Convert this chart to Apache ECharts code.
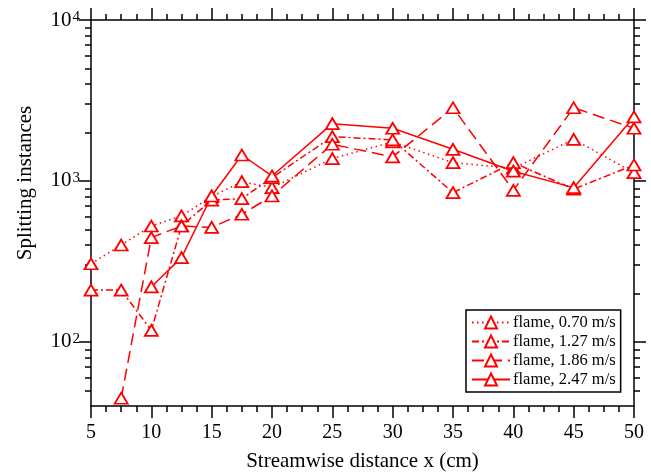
<!DOCTYPE html>
<html><head><meta charset="utf-8">
<script src="https://cdn.jsdelivr.net/npm/echarts@6/dist/echarts.min.js"></script>
<style>html,body{margin:0;padding:0;background:#fff}#c{width:651px;height:473px}</style>
</head><body><div id="c"></div>
<script>
const xValues = [5, 7.5, 10, 12.5, 15, 17.5, 20, 25, 30, 35, 40, 45, 50];
const flame070 = [306, 400, 525, 607, 800, 990, 909, 1377, 1750, 1300, 1199, 1815, 1126];
const flame127 = [210, 210, 118, 525, 760, 776, 1050, 1885, 1800, 846, 1300, 890, 1257];
const flame186 = [null, 44.7, 445, 525, 515, 621, 807, 1691, 1410, 2850, 875, 2850, 2125];
const flame247 = [null, null, 220, 334, 807, 1450, 1074, 2270, 2125, 1573, 1150, 909, 2500];
const seriesNames = ['flame, 0.70 m/s', 'flame, 1.27 m/s', 'flame, 1.86 m/s', 'flame, 2.47 m/s'];
const yMajorTicks = [100, 1000, 10000];
const yMinorTicks = [50, 60, 70, 80, 90, 200, 300, 400, 500, 600, 700, 800, 900, 2000, 3000, 4000, 5000, 6000, 7000, 8000, 9000];
const yMin = 40, yMax = 10000;
const xMin = 5, xMax = 50, xStep = 5;

const FONT = 'Liberation Serif';
const RED = '#ff0000';
const lg = v => Math.log10(v);

function toData(vals) {
  const out = [];
  xValues.forEach((x, i) => { if (vals[i] != null) out.push([x, lg(vals[i])]); });
  return out;
}

const lineStyles = [[1.5, 3.5], [7, 3, 2, 3], [12, 6], 'solid'];
const allVals = [flame070, flame127, flame186, flame247];

const series = allVals.map((vals, k) => ({
  name: seriesNames[k],
  type: 'line',
  data: toData(vals),
  symbol: 'triangle',
  symbolSize: [13, 11],
  showSymbol: true,
  xAxisIndex: 0,
  yAxisIndex: 0,
  lineStyle: { color: RED, width: 1.5, type: lineStyles[k] },
  itemStyle: { color: '#fff', borderColor: RED, borderWidth: 1.8 },
  emphasis: { disabled: true },
  z: 3 + k
}));

const axisLineStyle = { color: '#000', width: 1.5 };
const baseX = {
  type: 'value', min: xMin, max: xMax, interval: xStep,
  splitLine: { show: false },
  axisLine: { show: true, onZero: false, lineStyle: axisLineStyle },
  axisTick: { show: true, inside: false, length: 12, lineStyle: axisLineStyle },
  minorTick: { show: true, splitNumber: 4, length: 6, lineStyle: axisLineStyle }
};
const baseY = {
  type: 'value', min: lg(yMin), max: lg(yMax),
  splitLine: { show: false },
  axisLine: { show: true, onZero: false, lineStyle: axisLineStyle }
};
const majorTickVals = yMajorTicks.map(lg);
const minorTickVals = yMinorTicks.map(lg);

const chart = echarts.init(document.getElementById('c'), null, { renderer: 'canvas' });
chart.setOption({
  animation: false,
  backgroundColor: '#fff',
  grid: { left: 91, right: 17, top: 20, bottom: 67, containLabel: false, outerBoundsMode: 'none' },
  xAxis: [
    Object.assign({}, baseX, {
      position: 'bottom',
      name: 'Streamwise distance x (cm)', nameLocation: 'middle', nameGap: 45,
      nameTextStyle: { fontFamily: FONT, fontSize: 21, color: '#000' },
      axisLabel: { show: true, margin: 17, fontFamily: FONT, fontSize: 20, color: '#000' }
    }),
    Object.assign({}, baseX, { position: 'top', axisLabel: { show: false } })
  ],
  yAxis: [
    Object.assign({}, baseY, {
      position: 'left',
      axisTick: { show: true, inside: false, length: 12, lineStyle: axisLineStyle, customValues: majorTickVals },
      axisLabel: {
        show: true, margin: 11, customValues: majorTickVals,
        formatter: v => '{b|10}{s|' + Math.round(v) + '}',
        rich: {
          b: { fontFamily: FONT, fontSize: 21, color: '#000', lineHeight: 21, verticalAlign: 'bottom' },
          s: { fontFamily: FONT, fontSize: 15, color: '#000', lineHeight: 15, verticalAlign: 'top', padding: [0, 0, 10, 1] }
        }
      }
    }),
    Object.assign({}, baseY, {
      position: 'left', offset: 0,
      axisLine: { show: false },
      axisTick: { show: true, inside: false, length: 6, lineStyle: axisLineStyle, customValues: minorTickVals },
      axisLabel: { show: false }
    }),
    Object.assign({}, baseY, {
      position: 'right', offset: 0,
      axisTick: { show: true, inside: false, length: 12, lineStyle: axisLineStyle, customValues: majorTickVals },
      axisLabel: { show: false }
    }),
    Object.assign({}, baseY, {
      position: 'right', offset: 0,
      axisLine: { show: false },
      axisTick: { show: true, inside: false, length: 6, lineStyle: axisLineStyle, customValues: minorTickVals },
      axisLabel: { show: false }
    })
  ],
  legend: {
    data: seriesNames,
    orient: 'vertical', left: 466, top: 310,
    padding: [4, 5, 4, 5], itemGap: 2, itemWidth: 38, itemHeight: 15,
    borderColor: '#000', borderWidth: 1.5, backgroundColor: '#fff',
    textStyle: { fontFamily: FONT, fontSize: 16.5, color: '#000', padding: [0, 0, 0, -2] },
    selectedMode: false
  },
  graphic: [{
    type: 'text', x: 25, y: 183, rotation: Math.PI / 2,
    style: { text: 'Splitting instances', fontFamily: FONT, fontSize: 21, fill: '#000', align: 'center', verticalAlign: 'middle' }
  }],
  series: series
});
</script>
</body></html>
